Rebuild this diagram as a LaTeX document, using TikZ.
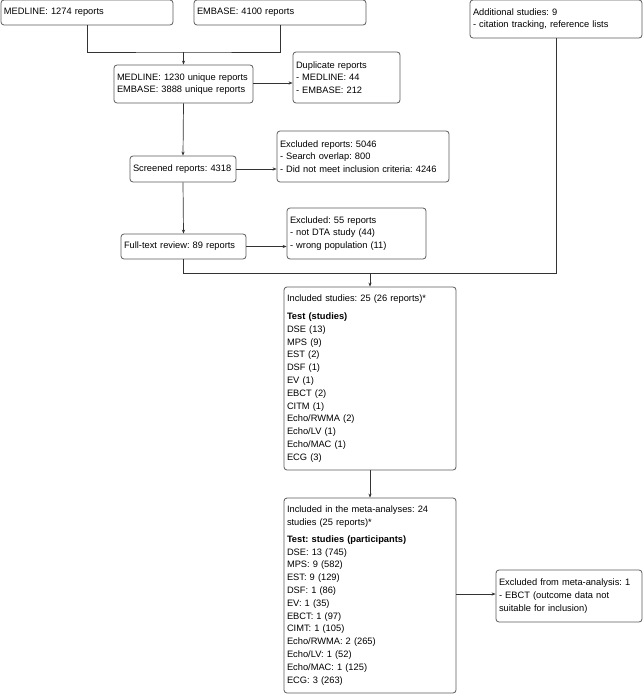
\documentclass[tikz,border=0pt]{standalone}
\usepackage{fontspec}
\setmainfont{Liberation Sans}
\usetikzlibrary{arrows.meta}
\definecolor{boxline}{HTML}{5A5A5A}
\definecolor{conline}{HTML}{333333}
\tikzset{
  fbox/.style={draw=boxline, line width=0.8pt, rounded corners=3pt, align=left,
    inner xsep=3pt, inner ysep=0pt, font=\fontsize{9.3}{12.8}\selectfont\frenchspacing, text=black},
  conn/.style={draw=conline, line width=0.7pt},
  arr/.style={conn, -{Stealth[length=4pt,width=3.2pt]}}
}
\begin{document}
\frenchspacing
\begin{tikzpicture}[x=1pt,y=-1pt]
\useasboundingbox (0,0) rectangle (643,695);
\node[fbox, minimum width=172pt, minimum height=25pt, text width=166pt] (medline) at (87,12.5) {MEDLINE: 1274 reports};
\node[fbox, minimum width=172pt, minimum height=25pt, text width=166pt] (embase) at (280,12.5) {EMBASE: 4100 reports};
\node[fbox, minimum width=172pt, minimum height=38pt, text width=166pt] (additional) at (556,19) {Additional studies: 9\\- citation tracking, reference lists};
\node[fbox, minimum width=139pt, minimum height=38pt, text width=133pt] (unique) at (183.5,84) {MEDLINE: 1230 unique reports\\EMBASE: 3888 unique reports};
\node[fbox, minimum width=107pt, minimum height=51pt, text width=101pt] (dup) at (346.5,77.5) {Duplicate reports\\- MEDLINE: 44\\- EMBASE: 212};
\node[fbox, minimum width=106pt, minimum height=26pt, text width=100pt] (screened) at (183,169) {Screened reports: 4318};
\node[fbox, minimum width=172pt, minimum height=51pt, text width=166pt] (excl1) at (363,156.5) {Excluded reports: 5046\\- Search overlap: 800\\- Did not meet inclusion criteria: 4246};
\node[fbox, minimum width=125pt, minimum height=25pt, text width=119pt] (fulltext) at (183.5,246.5) {Full-text review: 89 reports};
\node[fbox, minimum width=139pt, minimum height=51pt, text width=133pt] (excl2) at (356.5,233.5) {Excluded: 55 reports\\- not DTA study (44)\\- wrong population (11)};
\node[fbox, minimum width=172pt, minimum height=183pt, text width=166pt] (included) at (370,378.5) {Included studies: 25 (26 reports)*\\[5pt]
\textbf{Test (studies)}\\DSE (13)\\MPS (9)\\EST (2)\\DSF (1)\\EV (1)\\EBCT (2)\\CITM (1)\\Echo/RWMA (2)\\Echo/LV (1)\\Echo/MAC (1)\\ECG (3)};
\node[fbox, minimum width=172pt, minimum height=195pt, text width=166pt] (meta) at (370,595.5) {Included in the meta-analyses: 24\\studies (25 reports)*\\[4pt]
\textbf{Test: studies (participants)}\\DSE: 13 (745)\\MPS: 9 (582)\\EST: 9 (129)\\DSF: 1 (86)\\EV: 1 (35)\\EBCT: 1 (97)\\CIMT: 1 (105)\\Echo/RWMA: 2 (265)\\Echo/LV: 1 (52)\\Echo/MAC: 1 (125)\\ECG: 3 (263)};
\node[fbox, minimum width=146pt, minimum height=52pt, text width=140pt] (exclmeta) at (569,596) {Excluded from meta-analysis: 1\\- EBCT (outcome data not\\suitable for inclusion)};
% connectors
\coordinate (j1) at (183.5,52);
\coordinate (j2) at (370,273);
\draw[conn] (medline.south) |- (j1) -| (embase.south);
\draw[arr] (j1) -- (unique.north);
\draw[arr] ([yshift=1pt]unique.east) -- ([yshift=1pt]unique.east -| dup.west);
\draw[arr] (unique.south) -- (screened.north);
\draw[arr] (screened.east) -- (screened.east -| excl1.west);
\draw[arr] (screened.south) -- (fulltext.north);
\draw[arr] (fulltext.east) -- (fulltext.east -| excl2.west);
\draw[conn] (fulltext.south) |- (j2);
\draw[conn] (additional.south) |- (j2);
\draw[arr] (j2) -- (included.north);
\draw[arr] (included.south) -- (meta.north);
\draw[arr] ([yshift=1.5pt]meta.east) -- ([yshift=1.5pt]meta.east -| exclmeta.west);
\end{tikzpicture}
\end{document}
